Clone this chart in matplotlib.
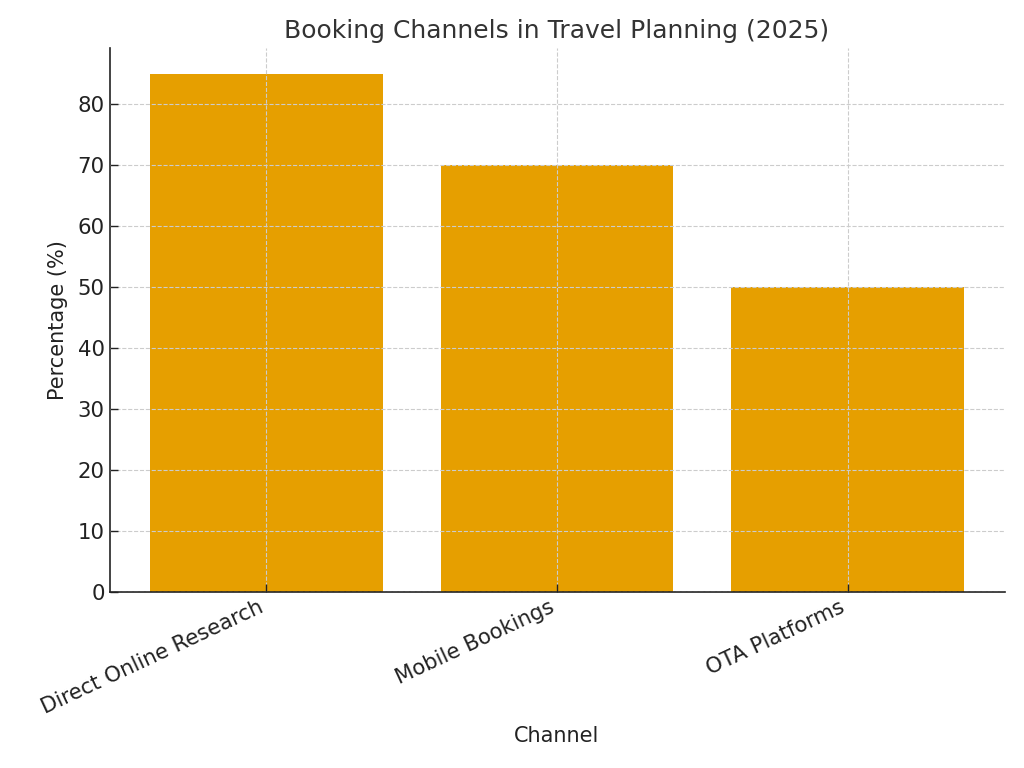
import matplotlib
matplotlib.use("Agg")
import matplotlib.pyplot as plt

# data
channels = ["Direct Online Research", "Mobile Bookings", "OTA Platforms"]
percentages = [85, 70, 50]

plt.rcParams['font.family'] = ['DejaVu Sans']
plt.rcParams['xtick.direction'] = 'in'
plt.rcParams['ytick.direction'] = 'in'

fig, ax = plt.subplots(figsize=(10.24, 7.68), dpi=100)
fig.subplots_adjust(left=0.107, right=0.981, bottom=0.229, top=0.9375)

ax.bar(channels, percentages, width=0.8, color='#E69F00', zorder=2)

ax.set_title("Booking Channels in Travel Planning (2025)", fontsize=18, color='#333333', pad=7)
ax.set_xlabel("Channel", fontsize=15, color='#222222', labelpad=6)
ax.set_ylabel("Percentage (%)", fontsize=15, color='#222222', labelpad=7)

ax.tick_params(axis='both', labelsize=15.3, colors='#222222', length=6, width=1)
plt.setp(ax.get_xticklabels(), rotation=25, ha='right')

ax.grid(True, linestyle='--', color='#cccccc', linewidth=0.8, zorder=0)
ax.set_axisbelow(False)
ax.spines['top'].set_visible(False)
ax.spines['right'].set_visible(False)
for side in ['left', 'bottom']:
    ax.spines[side].set_color('#222222')
    ax.spines[side].set_linewidth(1.2)

fig.savefig("out.png", dpi=100)
